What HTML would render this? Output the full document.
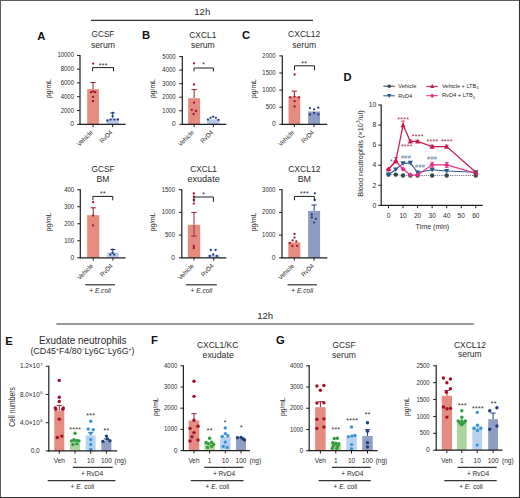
<!DOCTYPE html><html><head><meta charset="utf-8"><style>html,body{margin:0;padding:0;background:#fff;}svg{display:block;}</style></head><body>
<svg width="520" height="498" viewBox="0 0 520 498" font-family='"Liberation Sans", sans-serif'>
<rect x="0" y="0" width="520" height="498" fill="#fff"/>
<rect x="0" y="0" width="520" height="1" fill="#5c5c5c"/>
<rect x="0" y="0" width="1" height="498" fill="#5c5c5c"/>
<rect x="519" y="0" width="1" height="498" fill="#303030"/>
<rect x="0" y="497" width="520" height="1" fill="#303030"/>
<text x="202.3" y="14.9" font-size="9.6" fill="#2a2a2a" text-anchor="middle">12h</text>
<line x1="91" y1="20.4" x2="313" y2="20.4" stroke="#333" stroke-width="1.2"/>
<text x="37.2" y="39.6" font-size="11.2" fill="#111" font-weight="bold">A</text>
<text x="141.9" y="39.4" font-size="11.2" fill="#111" font-weight="bold">B</text>
<text x="241.9" y="39.4" font-size="11.2" fill="#111" font-weight="bold">C</text>
<text x="343.5" y="80.6" font-size="11.2" fill="#111" font-weight="bold">D</text>
<text x="5.2" y="344.8" font-size="11.2" fill="#111" font-weight="bold">E</text>
<text x="151" y="343.8" font-size="11.2" fill="#111" font-weight="bold">F</text>
<text x="276" y="343.9" font-size="11.2" fill="#111" font-weight="bold">G</text>
<line x1="93.05000000000001" y1="82.5" x2="93.05000000000001" y2="89.1" stroke="#9a1e2e" stroke-width="1"/>
<line x1="90.45000000000002" y1="82.5" x2="95.65" y2="82.5" stroke="#9a1e2e" stroke-width="1"/>
<rect x="87.2" y="89.1" width="11.700000000000003" height="35.2" fill="#e68c7e"/>
<circle cx="93.2" cy="63.6" r="1.15" fill="#a30f29"/>
<circle cx="91" cy="92.2" r="1.15" fill="#a30f29"/>
<circle cx="93.2" cy="91.5" r="1.15" fill="#a30f29"/>
<circle cx="95.3" cy="92.2" r="1.15" fill="#a30f29"/>
<circle cx="93" cy="97" r="1.15" fill="#a30f29"/>
<circle cx="93" cy="101.2" r="1.15" fill="#a30f29"/>
<line x1="112.6" y1="113" x2="112.6" y2="118.6" stroke="#5b6f9a" stroke-width="1"/>
<line x1="110.0" y1="113" x2="115.19999999999999" y2="113" stroke="#5b6f9a" stroke-width="1"/>
<rect x="106.3" y="118.6" width="12.600000000000009" height="5.700000000000003" fill="#b7c7ea"/>
<circle cx="112.6" cy="113" r="1.15" fill="#1f3d78"/>
<circle cx="112.6" cy="116.2" r="1.15" fill="#1f3d78"/>
<circle cx="107.4" cy="120.6" r="1.15" fill="#1f3d78"/>
<circle cx="110.6" cy="119.6" r="1.15" fill="#1f3d78"/>
<circle cx="114.4" cy="119.6" r="1.15" fill="#1f3d78"/>
<circle cx="117.9" cy="119.4" r="1.15" fill="#1f3d78"/>
<line x1="80" y1="54.89999999999999" x2="80" y2="124.8" stroke="#1e1e1e" stroke-width="1.2"/>
<line x1="77" y1="124.3" x2="80" y2="124.3" stroke="#1e1e1e" stroke-width="1"/>
<text x="74.0" y="126.37" font-size="6.6" fill="#2a2a2a" text-anchor="end">0</text>
<line x1="77" y1="110.52" x2="80" y2="110.52" stroke="#1e1e1e" stroke-width="1"/>
<text x="74.0" y="112.59" font-size="6.6" fill="#2a2a2a" text-anchor="end" textLength="13.28" lengthAdjust="spacingAndGlyphs">2000</text>
<line x1="77" y1="96.74" x2="80" y2="96.74" stroke="#1e1e1e" stroke-width="1"/>
<text x="74.0" y="98.81" font-size="6.6" fill="#2a2a2a" text-anchor="end" textLength="13.28" lengthAdjust="spacingAndGlyphs">4000</text>
<line x1="77" y1="82.96" x2="80" y2="82.96" stroke="#1e1e1e" stroke-width="1"/>
<text x="74.0" y="85.03" font-size="6.6" fill="#2a2a2a" text-anchor="end" textLength="13.28" lengthAdjust="spacingAndGlyphs">6000</text>
<line x1="77" y1="69.17999999999999" x2="80" y2="69.17999999999999" stroke="#1e1e1e" stroke-width="1"/>
<text x="74.0" y="71.25" font-size="6.6" fill="#2a2a2a" text-anchor="end" textLength="13.28" lengthAdjust="spacingAndGlyphs">8000</text>
<line x1="77" y1="55.39999999999999" x2="80" y2="55.39999999999999" stroke="#1e1e1e" stroke-width="1"/>
<text x="74.0" y="57.47" font-size="6.6" fill="#2a2a2a" text-anchor="end" textLength="16.6" lengthAdjust="spacingAndGlyphs">10000</text>
<line x1="79.4" y1="124.3" x2="125.6" y2="124.3" stroke="#1e1e1e" stroke-width="1.3"/>
<line x1="93.05000000000001" y1="124.3" x2="93.05000000000001" y2="127.1" stroke="#1e1e1e" stroke-width="1"/>
<line x1="112.6" y1="124.3" x2="112.6" y2="127.1" stroke="#1e1e1e" stroke-width="1"/>
<text x="51.4" y="88.6" font-size="7.6" fill="#2a2a2a" text-anchor="middle" textLength="18.6" lengthAdjust="spacingAndGlyphs" transform="rotate(-90 51.4 88.6)">pg/mL</text>
<text x="103" y="36.8" font-size="9.0" fill="#2a2a2a" text-anchor="middle" textLength="22.8" lengthAdjust="spacingAndGlyphs">GCSF</text>
<text x="103" y="47.6" font-size="9.0" fill="#2a2a2a" text-anchor="middle" textLength="24.2" lengthAdjust="spacingAndGlyphs">serum</text>
<polyline points="92.6,71.3 92.6,67.6 113.5,67.6 113.5,71.3" fill="none" stroke="#1e1e1e" stroke-width="1"/>
<text x="103.17" y="67.97" font-size="6.8" fill="#2a2a2a" text-anchor="middle" letter-spacing="0.35">***</text>
<text x="93.35" y="132.9" font-size="6.4" fill="#2a2a2a" text-anchor="end" textLength="19.6" lengthAdjust="spacingAndGlyphs" transform="rotate(-45 93.35 132.9)">Vehicle</text>
<text x="112.9" y="132.9" font-size="6.4" fill="#2a2a2a" text-anchor="end" textLength="15.0" lengthAdjust="spacingAndGlyphs" transform="rotate(-45 112.9 132.9)">RvD4</text>
<line x1="194.14999999999998" y1="89.6" x2="194.14999999999998" y2="98.2" stroke="#9a1e2e" stroke-width="1"/>
<line x1="191.54999999999998" y1="89.6" x2="196.74999999999997" y2="89.6" stroke="#9a1e2e" stroke-width="1"/>
<rect x="188.2" y="98.2" width="11.900000000000006" height="26.099999999999994" fill="#e68c7e"/>
<circle cx="194" cy="63.4" r="1.15" fill="#a30f29"/>
<circle cx="194" cy="84.5" r="1.15" fill="#a30f29"/>
<circle cx="194" cy="102.6" r="1.15" fill="#a30f29"/>
<circle cx="191.8" cy="109.8" r="1.15" fill="#a30f29"/>
<circle cx="196" cy="111" r="1.15" fill="#a30f29"/>
<circle cx="193.6" cy="114" r="1.15" fill="#a30f29"/>
<rect x="207.1" y="119.4" width="12.5" height="4.8999999999999915" fill="#b7c7ea"/>
<circle cx="207.9" cy="119.6" r="1.15" fill="#1f3d78"/>
<circle cx="210.5" cy="117.8" r="1.15" fill="#1f3d78"/>
<circle cx="213.2" cy="116.7" r="1.15" fill="#1f3d78"/>
<circle cx="215.9" cy="117.8" r="1.15" fill="#1f3d78"/>
<circle cx="218.4" cy="119.8" r="1.15" fill="#1f3d78"/>
<line x1="182.3" y1="56.10000000000001" x2="182.3" y2="124.8" stroke="#1e1e1e" stroke-width="1.2"/>
<line x1="179.3" y1="124.3" x2="182.3" y2="124.3" stroke="#1e1e1e" stroke-width="1"/>
<text x="175.6" y="126.37" font-size="6.6" fill="#2a2a2a" text-anchor="end">0</text>
<line x1="179.3" y1="110.76" x2="182.3" y2="110.76" stroke="#1e1e1e" stroke-width="1"/>
<text x="175.6" y="112.83" font-size="6.6" fill="#2a2a2a" text-anchor="end" textLength="13.28" lengthAdjust="spacingAndGlyphs">1000</text>
<line x1="179.3" y1="97.22" x2="182.3" y2="97.22" stroke="#1e1e1e" stroke-width="1"/>
<text x="175.6" y="99.29" font-size="6.6" fill="#2a2a2a" text-anchor="end" textLength="13.28" lengthAdjust="spacingAndGlyphs">2000</text>
<line x1="179.3" y1="83.68" x2="182.3" y2="83.68" stroke="#1e1e1e" stroke-width="1"/>
<text x="175.6" y="85.75" font-size="6.6" fill="#2a2a2a" text-anchor="end" textLength="13.28" lengthAdjust="spacingAndGlyphs">3000</text>
<line x1="179.3" y1="70.14000000000001" x2="182.3" y2="70.14000000000001" stroke="#1e1e1e" stroke-width="1"/>
<text x="175.6" y="72.21" font-size="6.6" fill="#2a2a2a" text-anchor="end" textLength="13.28" lengthAdjust="spacingAndGlyphs">4000</text>
<line x1="179.3" y1="56.60000000000001" x2="182.3" y2="56.60000000000001" stroke="#1e1e1e" stroke-width="1"/>
<text x="175.6" y="58.67" font-size="6.6" fill="#2a2a2a" text-anchor="end" textLength="13.28" lengthAdjust="spacingAndGlyphs">5000</text>
<line x1="181.70000000000002" y1="124.3" x2="226.3" y2="124.3" stroke="#1e1e1e" stroke-width="1.3"/>
<line x1="194.14999999999998" y1="124.3" x2="194.14999999999998" y2="127.1" stroke="#1e1e1e" stroke-width="1"/>
<line x1="213.35" y1="124.3" x2="213.35" y2="127.1" stroke="#1e1e1e" stroke-width="1"/>
<text x="155.0" y="88.6" font-size="7.6" fill="#2a2a2a" text-anchor="middle" textLength="18.6" lengthAdjust="spacingAndGlyphs" transform="rotate(-90 155.0 88.6)">pg/mL</text>
<text x="202.8" y="37.6" font-size="9.0" fill="#2a2a2a" text-anchor="middle" textLength="27.0" lengthAdjust="spacingAndGlyphs">CXCL1</text>
<text x="202.8" y="48.0" font-size="9.0" fill="#2a2a2a" text-anchor="middle" textLength="23.8" lengthAdjust="spacingAndGlyphs">serum</text>
<polyline points="194,71.4 194,68 213.4,68 213.4,71.4" fill="none" stroke="#1e1e1e" stroke-width="1"/>
<text x="203.67" y="67.27" font-size="6.8" fill="#2a2a2a" text-anchor="middle" letter-spacing="0.35">*</text>
<text x="194.45" y="132.9" font-size="6.4" fill="#2a2a2a" text-anchor="end" textLength="19.6" lengthAdjust="spacingAndGlyphs" transform="rotate(-45 194.45 132.9)">Vehicle</text>
<text x="213.65" y="132.9" font-size="6.4" fill="#2a2a2a" text-anchor="end" textLength="15.0" lengthAdjust="spacingAndGlyphs" transform="rotate(-45 213.65 132.9)">RvD4</text>
<line x1="294.35" y1="91.1" x2="294.35" y2="96.4" stroke="#9a1e2e" stroke-width="1"/>
<line x1="291.75" y1="91.1" x2="296.95000000000005" y2="91.1" stroke="#9a1e2e" stroke-width="1"/>
<rect x="288.5" y="96.4" width="11.699999999999989" height="27.89999999999999" fill="#e68c7e"/>
<circle cx="294.6" cy="74.5" r="1.15" fill="#a30f29"/>
<circle cx="290.3" cy="97.4" r="1.15" fill="#a30f29"/>
<circle cx="294.6" cy="96.6" r="1.15" fill="#a30f29"/>
<circle cx="298.9" cy="97.4" r="1.15" fill="#a30f29"/>
<circle cx="294.6" cy="101.2" r="1.15" fill="#a30f29"/>
<circle cx="294.6" cy="106.5" r="1.15" fill="#a30f29"/>
<rect x="308.1" y="111.5" width="11.899999999999977" height="12.799999999999997" fill="#8f9cc2"/>
<circle cx="309.9" cy="108.1" r="1.15" fill="#1f3d78"/>
<circle cx="314.1" cy="109.3" r="1.15" fill="#1f3d78"/>
<circle cx="318.3" cy="107.7" r="1.15" fill="#1f3d78"/>
<circle cx="309.9" cy="114.5" r="1.15" fill="#1f3d78"/>
<circle cx="314.1" cy="113" r="1.15" fill="#1f3d78"/>
<circle cx="318.3" cy="114.5" r="1.15" fill="#1f3d78"/>
<line x1="282.3" y1="55.39999999999999" x2="282.3" y2="124.8" stroke="#1e1e1e" stroke-width="1.2"/>
<line x1="279.3" y1="124.3" x2="282.3" y2="124.3" stroke="#1e1e1e" stroke-width="1"/>
<text x="275.6" y="126.37" font-size="6.6" fill="#2a2a2a" text-anchor="end">0</text>
<line x1="279.3" y1="107.19999999999999" x2="282.3" y2="107.19999999999999" stroke="#1e1e1e" stroke-width="1"/>
<text x="275.6" y="109.27" font-size="6.6" fill="#2a2a2a" text-anchor="end" textLength="9.96" lengthAdjust="spacingAndGlyphs">500</text>
<line x1="279.3" y1="90.1" x2="282.3" y2="90.1" stroke="#1e1e1e" stroke-width="1"/>
<text x="275.6" y="92.17" font-size="6.6" fill="#2a2a2a" text-anchor="end" textLength="13.28" lengthAdjust="spacingAndGlyphs">1000</text>
<line x1="279.3" y1="73.0" x2="282.3" y2="73.0" stroke="#1e1e1e" stroke-width="1"/>
<text x="275.6" y="75.07" font-size="6.6" fill="#2a2a2a" text-anchor="end" textLength="13.28" lengthAdjust="spacingAndGlyphs">1500</text>
<line x1="279.3" y1="55.89999999999999" x2="282.3" y2="55.89999999999999" stroke="#1e1e1e" stroke-width="1"/>
<text x="275.6" y="57.97" font-size="6.6" fill="#2a2a2a" text-anchor="end" textLength="13.28" lengthAdjust="spacingAndGlyphs">2000</text>
<line x1="281.7" y1="124.3" x2="327.3" y2="124.3" stroke="#1e1e1e" stroke-width="1.3"/>
<line x1="294.35" y1="124.3" x2="294.35" y2="127.1" stroke="#1e1e1e" stroke-width="1"/>
<line x1="314.05" y1="124.3" x2="314.05" y2="127.1" stroke="#1e1e1e" stroke-width="1"/>
<text x="256.0" y="88.6" font-size="7.6" fill="#2a2a2a" text-anchor="middle" textLength="18.6" lengthAdjust="spacingAndGlyphs" transform="rotate(-90 256.0 88.6)">pg/mL</text>
<text x="304.2" y="37.4" font-size="9.0" fill="#2a2a2a" text-anchor="middle" textLength="32.2" lengthAdjust="spacingAndGlyphs">CXCL12</text>
<text x="304.2" y="47.9" font-size="9.0" fill="#2a2a2a" text-anchor="middle" textLength="23.8" lengthAdjust="spacingAndGlyphs">serum</text>
<polyline points="294.5,70.3 294.5,65.8 314.5,65.8 314.5,70.3" fill="none" stroke="#1e1e1e" stroke-width="1"/>
<text x="304.37" y="65.97" font-size="6.8" fill="#2a2a2a" text-anchor="middle" letter-spacing="0.35">**</text>
<text x="294.65" y="132.9" font-size="6.4" fill="#2a2a2a" text-anchor="end" textLength="19.6" lengthAdjust="spacingAndGlyphs" transform="rotate(-45 294.65 132.9)">Vehicle</text>
<text x="314.35" y="132.9" font-size="6.4" fill="#2a2a2a" text-anchor="end" textLength="15.0" lengthAdjust="spacingAndGlyphs" transform="rotate(-45 314.35 132.9)">RvD4</text>
<line x1="93.25" y1="207.8" x2="93.25" y2="215.2" stroke="#9a1e2e" stroke-width="1"/>
<line x1="90.65" y1="207.8" x2="95.85" y2="207.8" stroke="#9a1e2e" stroke-width="1"/>
<rect x="87.2" y="215.2" width="12.099999999999994" height="42.60000000000002" fill="#e68c7e"/>
<circle cx="93.1" cy="202.2" r="1.15" fill="#a30f29"/>
<circle cx="93.1" cy="215.6" r="1.15" fill="#a30f29"/>
<circle cx="93.1" cy="225.3" r="1.15" fill="#a30f29"/>
<line x1="112.9" y1="249.5" x2="112.9" y2="252.6" stroke="#1f3d78" stroke-width="1"/>
<line x1="110.30000000000001" y1="249.5" x2="115.5" y2="249.5" stroke="#1f3d78" stroke-width="1"/>
<rect x="107.2" y="252.6" width="11.399999999999991" height="5.200000000000017" fill="#b7c7ea"/>
<circle cx="112.4" cy="249.6" r="1.15" fill="#1f3d78"/>
<circle cx="110.3" cy="254.6" r="1.15" fill="#1f3d78"/>
<circle cx="114.2" cy="254.6" r="1.15" fill="#1f3d78"/>
<circle cx="112.4" cy="252.8" r="1.15" fill="#1f3d78"/>
<line x1="80.3" y1="189.2" x2="80.3" y2="258.3" stroke="#1e1e1e" stroke-width="1.2"/>
<line x1="77.3" y1="257.8" x2="80.3" y2="257.8" stroke="#1e1e1e" stroke-width="1"/>
<text x="74.2" y="259.87" font-size="6.6" fill="#2a2a2a" text-anchor="end">0</text>
<line x1="77.3" y1="240.775" x2="80.3" y2="240.775" stroke="#1e1e1e" stroke-width="1"/>
<text x="74.2" y="242.85" font-size="6.6" fill="#2a2a2a" text-anchor="end" textLength="9.96" lengthAdjust="spacingAndGlyphs">100</text>
<line x1="77.3" y1="223.75" x2="80.3" y2="223.75" stroke="#1e1e1e" stroke-width="1"/>
<text x="74.2" y="225.82" font-size="6.6" fill="#2a2a2a" text-anchor="end" textLength="9.96" lengthAdjust="spacingAndGlyphs">200</text>
<line x1="77.3" y1="206.725" x2="80.3" y2="206.725" stroke="#1e1e1e" stroke-width="1"/>
<text x="74.2" y="208.8" font-size="6.6" fill="#2a2a2a" text-anchor="end" textLength="9.96" lengthAdjust="spacingAndGlyphs">300</text>
<line x1="77.3" y1="189.7" x2="80.3" y2="189.7" stroke="#1e1e1e" stroke-width="1"/>
<text x="74.2" y="191.77" font-size="6.6" fill="#2a2a2a" text-anchor="end" textLength="9.96" lengthAdjust="spacingAndGlyphs">400</text>
<line x1="79.7" y1="257.8" x2="125.6" y2="257.8" stroke="#1e1e1e" stroke-width="1.3"/>
<line x1="93.25" y1="257.8" x2="93.25" y2="260.6" stroke="#1e1e1e" stroke-width="1"/>
<line x1="112.9" y1="257.8" x2="112.9" y2="260.6" stroke="#1e1e1e" stroke-width="1"/>
<text x="51.4" y="221.9" font-size="7.6" fill="#2a2a2a" text-anchor="middle" textLength="18.6" lengthAdjust="spacingAndGlyphs" transform="rotate(-90 51.4 221.9)">pg/mL</text>
<text x="103" y="171.5" font-size="9.0" fill="#2a2a2a" text-anchor="middle" textLength="23.2" lengthAdjust="spacingAndGlyphs">GCSF</text>
<text x="103" y="182.2" font-size="9.0" fill="#2a2a2a" text-anchor="middle" textLength="12.8" lengthAdjust="spacingAndGlyphs">BM</text>
<polyline points="92.9,200.3 92.9,196.4 112.8,196.4 112.8,200.3" fill="none" stroke="#1e1e1e" stroke-width="1"/>
<text x="103.07" y="196.47" font-size="6.8" fill="#2a2a2a" text-anchor="middle" letter-spacing="0.35">**</text>
<text x="93.55" y="266.4" font-size="6.4" fill="#2a2a2a" text-anchor="end" textLength="19.6" lengthAdjust="spacingAndGlyphs" transform="rotate(-45 93.55 266.4)">Vehicle</text>
<text x="113.2" y="266.4" font-size="6.4" fill="#2a2a2a" text-anchor="end" textLength="15.0" lengthAdjust="spacingAndGlyphs" transform="rotate(-45 113.2 266.4)">RvD4</text>
<line x1="194.0" y1="212.4" x2="194.0" y2="224.8" stroke="#9a1e2e" stroke-width="1"/>
<line x1="191.4" y1="212.4" x2="196.6" y2="212.4" stroke="#9a1e2e" stroke-width="1"/>
<rect x="187.8" y="224.8" width="12.399999999999977" height="33.0" fill="#e68c7e"/>
<circle cx="193.8" cy="193.5" r="1.15" fill="#a30f29"/>
<circle cx="193.8" cy="196.6" r="1.15" fill="#a30f29"/>
<circle cx="193.8" cy="200" r="1.15" fill="#a30f29"/>
<circle cx="193.8" cy="203.6" r="1.15" fill="#a30f29"/>
<circle cx="193.8" cy="245.9" r="1.15" fill="#a30f29"/>
<circle cx="193.8" cy="248.2" r="1.15" fill="#a30f29"/>
<rect x="207.6" y="255.2" width="12.200000000000017" height="2.6000000000000227" fill="#b7c7ea"/>
<circle cx="210.8" cy="250" r="1.15" fill="#1f3d78"/>
<circle cx="215.6" cy="250" r="1.15" fill="#1f3d78"/>
<circle cx="213.2" cy="254.5" r="1.15" fill="#1f3d78"/>
<circle cx="209.8" cy="256" r="1.15" fill="#1f3d78"/>
<circle cx="216.8" cy="256" r="1.15" fill="#1f3d78"/>
<line x1="181.8" y1="189.2" x2="181.8" y2="258.3" stroke="#1e1e1e" stroke-width="1.2"/>
<line x1="178.8" y1="257.8" x2="181.8" y2="257.8" stroke="#1e1e1e" stroke-width="1"/>
<text x="175.0" y="259.87" font-size="6.6" fill="#2a2a2a" text-anchor="end">0</text>
<line x1="178.8" y1="235.1" x2="181.8" y2="235.1" stroke="#1e1e1e" stroke-width="1"/>
<text x="175.0" y="237.17" font-size="6.6" fill="#2a2a2a" text-anchor="end" textLength="9.96" lengthAdjust="spacingAndGlyphs">500</text>
<line x1="178.8" y1="212.39999999999998" x2="181.8" y2="212.39999999999998" stroke="#1e1e1e" stroke-width="1"/>
<text x="175.0" y="214.47" font-size="6.6" fill="#2a2a2a" text-anchor="end" textLength="13.28" lengthAdjust="spacingAndGlyphs">1000</text>
<line x1="178.8" y1="189.7" x2="181.8" y2="189.7" stroke="#1e1e1e" stroke-width="1"/>
<text x="175.0" y="191.77" font-size="6.6" fill="#2a2a2a" text-anchor="end" textLength="13.28" lengthAdjust="spacingAndGlyphs">1500</text>
<line x1="181.20000000000002" y1="257.8" x2="226.3" y2="257.8" stroke="#1e1e1e" stroke-width="1.3"/>
<line x1="194.0" y1="257.8" x2="194.0" y2="260.6" stroke="#1e1e1e" stroke-width="1"/>
<line x1="213.7" y1="257.8" x2="213.7" y2="260.6" stroke="#1e1e1e" stroke-width="1"/>
<text x="155.0" y="221.9" font-size="7.6" fill="#2a2a2a" text-anchor="middle" textLength="18.6" lengthAdjust="spacingAndGlyphs" transform="rotate(-90 155.0 221.9)">pg/mL</text>
<text x="203.6" y="171.5" font-size="9.0" fill="#2a2a2a" text-anchor="middle" textLength="26.5" lengthAdjust="spacingAndGlyphs">CXCL1</text>
<text x="203.6" y="182.2" font-size="9.0" fill="#2a2a2a" text-anchor="middle" textLength="32.3" lengthAdjust="spacingAndGlyphs">exudate</text>
<polyline points="194,201.9 194,197 213.4,197 213.4,201.9" fill="none" stroke="#1e1e1e" stroke-width="1"/>
<text x="203.77" y="197.47" font-size="6.8" fill="#2a2a2a" text-anchor="middle" letter-spacing="0.35">*</text>
<text x="194.3" y="266.4" font-size="6.4" fill="#2a2a2a" text-anchor="end" textLength="19.6" lengthAdjust="spacingAndGlyphs" transform="rotate(-45 194.3 266.4)">Vehicle</text>
<text x="214.0" y="266.4" font-size="6.4" fill="#2a2a2a" text-anchor="end" textLength="15.0" lengthAdjust="spacingAndGlyphs" transform="rotate(-45 214.0 266.4)">RvD4</text>
<rect x="288.3" y="242.4" width="12.0" height="15.400000000000006" fill="#e68c7e"/>
<circle cx="294.5" cy="233.9" r="1.15" fill="#a30f29"/>
<circle cx="294.5" cy="237.6" r="1.15" fill="#a30f29"/>
<circle cx="292.6" cy="240.4" r="1.15" fill="#a30f29"/>
<circle cx="296.3" cy="241.4" r="1.15" fill="#a30f29"/>
<circle cx="289.8" cy="243" r="1.15" fill="#a30f29"/>
<circle cx="292.3" cy="245.9" r="1.15" fill="#a30f29"/>
<circle cx="297.2" cy="245.9" r="1.15" fill="#a30f29"/>
<line x1="314.1" y1="205" x2="314.1" y2="210.9" stroke="#1f3d78" stroke-width="1"/>
<line x1="311.5" y1="205" x2="316.70000000000005" y2="205" stroke="#1f3d78" stroke-width="1"/>
<rect x="308.1" y="210.9" width="12.0" height="46.900000000000006" fill="#8f9cc2"/>
<circle cx="314.8" cy="193.3" r="1.15" fill="#1f3d78"/>
<circle cx="314.8" cy="200" r="1.15" fill="#1f3d78"/>
<circle cx="311.8" cy="214.5" r="1.15" fill="#1f3d78"/>
<circle cx="315.9" cy="218.8" r="1.15" fill="#1f3d78"/>
<circle cx="311.8" cy="217.5" r="1.15" fill="#1f3d78"/>
<circle cx="314.1" cy="222.6" r="1.15" fill="#1f3d78"/>
<line x1="282" y1="189.2" x2="282" y2="258.3" stroke="#1e1e1e" stroke-width="1.2"/>
<line x1="279" y1="257.8" x2="282" y2="257.8" stroke="#1e1e1e" stroke-width="1"/>
<text x="275.4" y="259.87" font-size="6.6" fill="#2a2a2a" text-anchor="end">0</text>
<line x1="279" y1="235.1" x2="282" y2="235.1" stroke="#1e1e1e" stroke-width="1"/>
<text x="275.4" y="237.17" font-size="6.6" fill="#2a2a2a" text-anchor="end" textLength="13.28" lengthAdjust="spacingAndGlyphs">1000</text>
<line x1="279" y1="212.39999999999998" x2="282" y2="212.39999999999998" stroke="#1e1e1e" stroke-width="1"/>
<text x="275.4" y="214.47" font-size="6.6" fill="#2a2a2a" text-anchor="end" textLength="13.28" lengthAdjust="spacingAndGlyphs">2000</text>
<line x1="279" y1="189.7" x2="282" y2="189.7" stroke="#1e1e1e" stroke-width="1"/>
<text x="275.4" y="191.77" font-size="6.6" fill="#2a2a2a" text-anchor="end" textLength="13.28" lengthAdjust="spacingAndGlyphs">3000</text>
<line x1="281.4" y1="257.8" x2="327.3" y2="257.8" stroke="#1e1e1e" stroke-width="1.3"/>
<line x1="294.3" y1="257.8" x2="294.3" y2="260.6" stroke="#1e1e1e" stroke-width="1"/>
<line x1="314.1" y1="257.8" x2="314.1" y2="260.6" stroke="#1e1e1e" stroke-width="1"/>
<text x="256.0" y="221.9" font-size="7.6" fill="#2a2a2a" text-anchor="middle" textLength="18.6" lengthAdjust="spacingAndGlyphs" transform="rotate(-90 256.0 221.9)">pg/mL</text>
<text x="304.3" y="171.5" font-size="9.0" fill="#2a2a2a" text-anchor="middle" textLength="32.2" lengthAdjust="spacingAndGlyphs">CXCL12</text>
<text x="304.3" y="182.2" font-size="9.0" fill="#2a2a2a" text-anchor="middle" textLength="13.3" lengthAdjust="spacingAndGlyphs">BM</text>
<polyline points="294.5,200.3 294.5,196.4 314.3,196.4 314.3,200.3" fill="none" stroke="#1e1e1e" stroke-width="1"/>
<text x="304.57" y="195.87" font-size="6.8" fill="#2a2a2a" text-anchor="middle" letter-spacing="0.35">***</text>
<text x="294.6" y="266.4" font-size="6.4" fill="#2a2a2a" text-anchor="end" textLength="19.6" lengthAdjust="spacingAndGlyphs" transform="rotate(-45 294.6 266.4)">Vehicle</text>
<text x="314.4" y="266.4" font-size="6.4" fill="#2a2a2a" text-anchor="end" textLength="15.0" lengthAdjust="spacingAndGlyphs" transform="rotate(-45 314.4 266.4)">RvD4</text>
<line x1="194" y1="224.8" x2="194" y2="236.1" stroke="#9a1e2e" stroke-width="0.9"/>
<line x1="191.2" y1="236.1" x2="196.8" y2="236.1" stroke="#9a1e2e" stroke-width="0.9"/>
<line x1="85.2" y1="284.8" x2="115" y2="284.8" stroke="#333" stroke-width="1.2"/>
<text x="100.1" y="293.3" font-size="6.6" fill="#2a2a2a" text-anchor="middle">+ <tspan font-style="italic">E.coli</tspan></text>
<line x1="186" y1="284.8" x2="216.8" y2="284.8" stroke="#333" stroke-width="1.2"/>
<text x="201.4" y="293.3" font-size="6.6" fill="#2a2a2a" text-anchor="middle">+ <tspan font-style="italic">E.coli</tspan></text>
<line x1="287.5" y1="284.8" x2="317" y2="284.8" stroke="#333" stroke-width="1.2"/>
<text x="302.2" y="293.3" font-size="6.6" fill="#2a2a2a" text-anchor="middle">+ <tspan font-style="italic">E.coli</tspan></text>
<line x1="381.2" y1="104.5" x2="381.2" y2="205.9" stroke="#1e1e1e" stroke-width="1.2"/>
<line x1="378.2" y1="205.4" x2="381.2" y2="205.4" stroke="#1e1e1e" stroke-width="1"/>
<text x="376.2" y="207.6" font-size="6.8" fill="#2a2a2a" text-anchor="end">0</text>
<line x1="378.2" y1="185.32" x2="381.2" y2="185.32" stroke="#1e1e1e" stroke-width="1"/>
<text x="376.2" y="187.52" font-size="6.8" fill="#2a2a2a" text-anchor="end">2</text>
<line x1="378.2" y1="165.24" x2="381.2" y2="165.24" stroke="#1e1e1e" stroke-width="1"/>
<text x="376.2" y="167.44" font-size="6.8" fill="#2a2a2a" text-anchor="end">4</text>
<line x1="378.2" y1="145.16000000000003" x2="381.2" y2="145.16000000000003" stroke="#1e1e1e" stroke-width="1"/>
<text x="376.2" y="147.36" font-size="6.8" fill="#2a2a2a" text-anchor="end">6</text>
<line x1="378.2" y1="125.08000000000001" x2="381.2" y2="125.08000000000001" stroke="#1e1e1e" stroke-width="1"/>
<text x="376.2" y="127.28" font-size="6.8" fill="#2a2a2a" text-anchor="end">8</text>
<line x1="378.2" y1="105.00000000000001" x2="381.2" y2="105.00000000000001" stroke="#1e1e1e" stroke-width="1"/>
<text x="376.2" y="107.2" font-size="6.8" fill="#2a2a2a" text-anchor="end">10</text>
<line x1="380.6" y1="205.4" x2="482.7" y2="205.4" stroke="#1e1e1e" stroke-width="1.3"/>
<line x1="388.5" y1="205.4" x2="388.5" y2="208.20000000000002" stroke="#1e1e1e" stroke-width="1"/>
<text x="388.5" y="217.5" font-size="6.6" fill="#2a2a2a" text-anchor="middle">0</text>
<line x1="403.05" y1="205.4" x2="403.05" y2="208.20000000000002" stroke="#1e1e1e" stroke-width="1"/>
<text x="403.05" y="217.5" font-size="6.6" fill="#2a2a2a" text-anchor="middle">10</text>
<line x1="417.6" y1="205.4" x2="417.6" y2="208.20000000000002" stroke="#1e1e1e" stroke-width="1"/>
<text x="417.6" y="217.5" font-size="6.6" fill="#2a2a2a" text-anchor="middle">20</text>
<line x1="432.15" y1="205.4" x2="432.15" y2="208.20000000000002" stroke="#1e1e1e" stroke-width="1"/>
<text x="432.15" y="217.5" font-size="6.6" fill="#2a2a2a" text-anchor="middle">30</text>
<line x1="446.7" y1="205.4" x2="446.7" y2="208.20000000000002" stroke="#1e1e1e" stroke-width="1"/>
<text x="446.7" y="217.5" font-size="6.6" fill="#2a2a2a" text-anchor="middle">40</text>
<line x1="461.25" y1="205.4" x2="461.25" y2="208.20000000000002" stroke="#1e1e1e" stroke-width="1"/>
<text x="461.25" y="217.5" font-size="6.6" fill="#2a2a2a" text-anchor="middle">50</text>
<line x1="475.8" y1="205.4" x2="475.8" y2="208.20000000000002" stroke="#1e1e1e" stroke-width="1"/>
<text x="475.8" y="217.5" font-size="6.6" fill="#2a2a2a" text-anchor="middle">60</text>
<text x="432.4" y="228.9" font-size="8.0" fill="#2a2a2a" text-anchor="middle" textLength="33.6" lengthAdjust="spacingAndGlyphs">Time (min)</text>
<text x="362.8" y="153.5" font-size="7.8" fill="#2a2a2a" text-anchor="middle" transform="rotate(-90 362.8 153.5)" textLength="86.5" lengthAdjust="spacingAndGlyphs">Blood neutrophils (×10<tspan font-size="5" dy="-2.8">3</tspan><tspan dy="2.8">/ul)</tspan></text>
<polyline points="388.50,174.58 395.77,174.58 403.05,175.48 410.32,175.48 417.60,175.48 432.15,175.48 446.70,175.48 475.80,175.48" fill="none" stroke="#737c82" stroke-width="1.0" stroke-dasharray="1.2,1.0"/>
<polyline points="388.50,174.58 395.77,169.46 403.05,163.43 410.32,162.83 417.60,172.47 432.15,169.76 446.70,170.96 475.80,172.27" fill="none" stroke="#285a86" stroke-width="1.1"/>
<polyline points="388.50,169.26 395.77,161.22 403.05,169.06 410.32,174.98 417.60,174.98 432.15,164.74 446.70,164.94 475.80,173.27" fill="none" stroke="#e42a86" stroke-width="1.2"/>
<polyline points="388.50,169.26 395.77,161.22 403.05,125.08 410.32,141.34 417.60,141.34 432.15,146.67 446.70,146.67 475.80,172.27" fill="none" stroke="#c21c48" stroke-width="1.2"/>
<line x1="395.775" y1="157.71" x2="395.775" y2="161.224" stroke="#c21c48" stroke-width="0.8"/>
<line x1="393.775" y1="157.71" x2="397.775" y2="157.71" stroke="#c21c48" stroke-width="0.8"/>
<line x1="403.05" y1="121.06400000000001" x2="403.05" y2="125.08000000000001" stroke="#c21c48" stroke-width="0.8"/>
<line x1="401.05" y1="121.06400000000001" x2="405.05" y2="121.06400000000001" stroke="#c21c48" stroke-width="0.8"/>
<line x1="410.325" y1="140.14000000000001" x2="410.325" y2="141.34480000000002" stroke="#c21c48" stroke-width="0.8"/>
<line x1="408.325" y1="140.14000000000001" x2="412.325" y2="140.14000000000001" stroke="#c21c48" stroke-width="0.8"/>
<line x1="417.6" y1="140.3408" x2="417.6" y2="141.34480000000002" stroke="#c21c48" stroke-width="0.8"/>
<line x1="415.6" y1="140.3408" x2="419.6" y2="140.3408" stroke="#c21c48" stroke-width="0.8"/>
<line x1="432.15" y1="145.16000000000003" x2="432.15" y2="146.666" stroke="#c21c48" stroke-width="0.8"/>
<line x1="430.15" y1="145.16000000000003" x2="434.15" y2="145.16000000000003" stroke="#c21c48" stroke-width="0.8"/>
<line x1="446.7" y1="145.16000000000003" x2="446.7" y2="146.666" stroke="#c21c48" stroke-width="0.8"/>
<line x1="444.7" y1="145.16000000000003" x2="448.7" y2="145.16000000000003" stroke="#c21c48" stroke-width="0.8"/>
<line x1="475.8" y1="171.264" x2="475.8" y2="172.268" stroke="#c21c48" stroke-width="0.8"/>
<line x1="473.8" y1="171.264" x2="477.8" y2="171.264" stroke="#c21c48" stroke-width="0.8"/>
<line x1="432.15" y1="162.228" x2="432.15" y2="167.24800000000002" stroke="#e42a86" stroke-width="0.8"/>
<line x1="430.15" y1="162.228" x2="434.15" y2="162.228" stroke="#e42a86" stroke-width="0.8"/>
<line x1="430.15" y1="167.24800000000002" x2="434.15" y2="167.24800000000002" stroke="#e42a86" stroke-width="0.8"/>
<line x1="446.7" y1="162.42880000000002" x2="446.7" y2="167.4488" stroke="#e42a86" stroke-width="0.8"/>
<line x1="444.7" y1="162.42880000000002" x2="448.7" y2="162.42880000000002" stroke="#e42a86" stroke-width="0.8"/>
<line x1="444.7" y1="167.4488" x2="448.7" y2="167.4488" stroke="#e42a86" stroke-width="0.8"/>
<circle cx="388.50" cy="174.58" r="2.2" fill="#37474f"/>
<circle cx="395.77" cy="174.58" r="2.2" fill="#37474f"/>
<circle cx="403.05" cy="175.48" r="2.2" fill="#37474f"/>
<circle cx="410.32" cy="175.48" r="2.2" fill="#37474f"/>
<circle cx="417.60" cy="175.48" r="2.2" fill="#37474f"/>
<circle cx="432.15" cy="175.48" r="2.2" fill="#37474f"/>
<circle cx="446.70" cy="175.48" r="2.2" fill="#37474f"/>
<circle cx="475.80" cy="175.48" r="2.2" fill="#37474f"/>
<polygon points="388.50,177.18 391.10,172.50 385.90,172.50" fill="#285a86"/>
<polygon points="395.77,172.06 398.38,167.38 393.17,167.38" fill="#285a86"/>
<polygon points="403.05,166.03 405.65,161.35 400.45,161.35" fill="#285a86"/>
<polygon points="410.32,165.43 412.93,160.75 407.72,160.75" fill="#285a86"/>
<polygon points="417.60,175.07 420.20,170.39 415.00,170.39" fill="#285a86"/>
<polygon points="432.15,172.36 434.75,167.68 429.55,167.68" fill="#285a86"/>
<polygon points="446.70,173.56 449.30,168.88 444.10,168.88" fill="#285a86"/>
<polygon points="475.80,174.87 478.40,170.19 473.20,170.19" fill="#285a86"/>
<polygon points="388.50,166.66 391.10,169.26 388.50,171.86 385.90,169.26" fill="#e42a86"/>
<polygon points="395.77,158.62 398.38,161.22 395.77,163.82 393.17,161.22" fill="#e42a86"/>
<polygon points="403.05,166.46 405.65,169.06 403.05,171.66 400.45,169.06" fill="#e42a86"/>
<polygon points="410.32,172.38 412.93,174.98 410.32,177.58 407.72,174.98" fill="#e42a86"/>
<polygon points="417.60,172.38 420.20,174.98 417.60,177.58 415.00,174.98" fill="#e42a86"/>
<polygon points="432.15,162.14 434.75,164.74 432.15,167.34 429.55,164.74" fill="#e42a86"/>
<polygon points="446.70,162.34 449.30,164.94 446.70,167.54 444.10,164.94" fill="#e42a86"/>
<polygon points="475.80,170.67 478.40,173.27 475.80,175.87 473.20,173.27" fill="#e42a86"/>
<polygon points="388.50,166.66 391.10,171.34 385.90,171.34" fill="#c21c48"/>
<polygon points="395.77,158.62 398.38,163.30 393.17,163.30" fill="#c21c48"/>
<polygon points="403.05,122.48 405.65,127.16 400.45,127.16" fill="#c21c48"/>
<polygon points="410.32,138.74 412.93,143.42 407.72,143.42" fill="#c21c48"/>
<polygon points="417.60,138.74 420.20,143.42 415.00,143.42" fill="#c21c48"/>
<polygon points="432.15,144.07 434.75,148.75 429.55,148.75" fill="#c21c48"/>
<polygon points="446.70,144.07 449.30,148.75 444.10,148.75" fill="#c21c48"/>
<polygon points="475.80,169.67 478.40,174.35 473.20,174.35" fill="#c21c48"/>
<text x="403.17" y="121.67" font-size="6.8" fill="#9c2848" text-anchor="middle" letter-spacing="0.35">****</text>
<text x="417.77" y="138.77" font-size="6.8" fill="#9c2848" text-anchor="middle" letter-spacing="0.35">****</text>
<text x="406.87" y="149.37" font-size="6.8" fill="#9c2848" text-anchor="middle" letter-spacing="0.35">****</text>
<text x="432.47" y="144.17" font-size="6.8" fill="#9c2848" text-anchor="middle" letter-spacing="0.35">****</text>
<text x="446.87" y="144.27" font-size="6.8" fill="#9c2848" text-anchor="middle" letter-spacing="0.35">****</text>
<text x="406.04999999999995" y="158.92" font-size="5.6" fill="#5f7da0" text-anchor="middle" letter-spacing="0.3">###</text>
<text x="420.15" y="167.92" font-size="5.6" fill="#5f7da0" text-anchor="middle" letter-spacing="0.3">###</text>
<text x="432.15" y="160.22" font-size="5.6" fill="#5f7da0" text-anchor="middle" letter-spacing="0.3">###</text>
<text x="391.57" y="164.27" font-size="6.8" fill="#456a8c" text-anchor="middle" letter-spacing="0.35">*</text>
<line x1="383.3" y1="86.2" x2="394.90000000000003" y2="86.2" stroke="#37474f" stroke-width="1.0"/>
<circle cx="389.20" cy="86.20" r="1.8" fill="#37474f"/>
<text x="398.2" y="87.9" font-size="6.1" fill="#2a2a2a" textLength="18.2" lengthAdjust="spacingAndGlyphs">Vehicle</text>
<line x1="383.3" y1="95.8" x2="394.90000000000003" y2="95.8" stroke="#285a86" stroke-width="1.0"/>
<polygon points="389.20,98.00 391.40,94.04 387.00,94.04" fill="#285a86"/>
<text x="398.2" y="97.5" font-size="6.1" fill="#2a2a2a" textLength="14.0" lengthAdjust="spacingAndGlyphs">RvD4</text>
<line x1="426.3" y1="86.3" x2="437.90000000000003" y2="86.3" stroke="#c21c48" stroke-width="1.0"/>
<polygon points="432.20,84.10 434.40,88.06 430.00,88.06" fill="#c21c48"/>
<text x="441.9" y="88.00" font-size="6.1" fill="#2a2a2a" textLength="34.4" lengthAdjust="spacingAndGlyphs">Vehicle + LTB</text>
<text x="476.50" y="89.20" font-size="3.6" fill="#2a2a2a">4</text>
<line x1="426.3" y1="95.7" x2="437.90000000000003" y2="95.7" stroke="#e42a86" stroke-width="1.0"/>
<polygon points="432.20,93.50 434.40,95.70 432.20,97.90 430.00,95.70" fill="#e42a86"/>
<text x="441.9" y="97.40" font-size="6.1" fill="#2a2a2a" textLength="31.0" lengthAdjust="spacingAndGlyphs">RvD4 + LTB</text>
<text x="473.10" y="98.60" font-size="3.6" fill="#2a2a2a">4</text>
<text x="265.2" y="318.8" font-size="9.6" fill="#2a2a2a" text-anchor="middle">12h</text>
<line x1="56.3" y1="324" x2="473.8" y2="324" stroke="#333" stroke-width="1.2"/>
<text x="82.75" y="343.5" font-size="10.0" fill="#2a2a2a" text-anchor="middle" textLength="87.5" lengthAdjust="spacingAndGlyphs">Exudate neutrophils</text>
<text x="82.4" y="353.9" font-size="9.2" fill="#2a2a2a" text-anchor="middle" textLength="104" lengthAdjust="spacingAndGlyphs">(CD45<tspan font-size="5" dy="-3">+</tspan><tspan dy="3">F4/80</tspan><tspan font-size="5" dy="-3">−</tspan><tspan dy="3">Ly6C</tspan><tspan font-size="5" dy="-3">−</tspan><tspan dy="3">Ly6G</tspan><tspan font-size="5" dy="-3">+</tspan><tspan dy="3">)</tspan></text>
<line x1="59.3" y1="405.4275" x2="59.3" y2="410.715" stroke="#9a1e2e" stroke-width="1"/>
<line x1="56.699999999999996" y1="405.4275" x2="61.9" y2="405.4275" stroke="#9a1e2e" stroke-width="1"/>
<rect x="54.3" y="410.715" width="10" height="40.185" fill="#e68c7e"/>
<circle cx="59.3" cy="380.4" r="1.7" fill="#a30f29"/>
<circle cx="59.3" cy="397.32" r="1.7" fill="#a30f29"/>
<circle cx="59.3" cy="401.55" r="1.7" fill="#a30f29"/>
<circle cx="55.3" cy="407.895" r="1.7" fill="#a30f29"/>
<circle cx="63.3" cy="407.895" r="1.7" fill="#a30f29"/>
<circle cx="59.3" cy="419.175" r="1.7" fill="#a30f29"/>
<circle cx="57.3" cy="437.505" r="1.7" fill="#a30f29"/>
<circle cx="61.8" cy="436.09499999999997" r="1.7" fill="#a30f29"/>
<circle cx="55.8" cy="409.305" r="1.7" fill="#a30f29"/>
<circle cx="62.8" cy="409.305" r="1.7" fill="#a30f29"/>
<line x1="75" y1="441.73499999999996" x2="75" y2="443.4975" stroke="#2f9e3a" stroke-width="1"/>
<line x1="72.4" y1="441.73499999999996" x2="77.6" y2="441.73499999999996" stroke="#2f9e3a" stroke-width="1"/>
<rect x="70.0" y="443.4975" width="10" height="7.402499999999975" fill="#acd49d"/>
<circle cx="75" cy="433.275" r="1.7" fill="#2f9e3a"/>
<circle cx="71.5" cy="441.03" r="1.7" fill="#2f9e3a"/>
<circle cx="74" cy="439.62" r="1.7" fill="#2f9e3a"/>
<circle cx="77" cy="440.325" r="1.7" fill="#2f9e3a"/>
<circle cx="79" cy="441.03" r="1.7" fill="#2f9e3a"/>
<circle cx="73" cy="444.555" r="1.7" fill="#2f9e3a"/>
<circle cx="77" cy="443.84999999999997" r="1.7" fill="#2f9e3a"/>
<line x1="90.7" y1="432.57" x2="90.7" y2="435.39" stroke="#3b94d6" stroke-width="1"/>
<line x1="88.10000000000001" y1="432.57" x2="93.3" y2="432.57" stroke="#3b94d6" stroke-width="1"/>
<rect x="85.7" y="435.39" width="10" height="15.509999999999991" fill="#b7d3ef"/>
<circle cx="90.7" cy="421.28999999999996" r="1.7" fill="#3b94d6"/>
<circle cx="88.2" cy="429.04499999999996" r="1.7" fill="#3b94d6"/>
<circle cx="93.2" cy="429.75" r="1.7" fill="#3b94d6"/>
<circle cx="90.7" cy="433.275" r="1.7" fill="#3b94d6"/>
<circle cx="90.7" cy="439.62" r="1.7" fill="#3b94d6"/>
<circle cx="90.7" cy="444.555" r="1.7" fill="#3b94d6"/>
<circle cx="90.7" cy="449.48999999999995" r="1.7" fill="#3b94d6"/>
<line x1="106.4" y1="438.91499999999996" x2="106.4" y2="440.6775" stroke="#1b3f7c" stroke-width="1"/>
<line x1="103.80000000000001" y1="438.91499999999996" x2="109.0" y2="438.91499999999996" stroke="#1b3f7c" stroke-width="1"/>
<rect x="101.4" y="440.6775" width="10" height="10.222499999999968" fill="#909ec4"/>
<circle cx="106.4" cy="436.09499999999997" r="1.7" fill="#1b3f7c"/>
<circle cx="102.9" cy="441.3825" r="1.7" fill="#1b3f7c"/>
<circle cx="109.9" cy="440.6775" r="1.7" fill="#1b3f7c"/>
<circle cx="107.4" cy="438.91499999999996" r="1.7" fill="#1b3f7c"/>
<line x1="48.8" y1="365.8" x2="48.8" y2="451.4" stroke="#1e1e1e" stroke-width="1.2"/>
<line x1="45.8" y1="450.9" x2="48.8" y2="450.9" stroke="#1e1e1e" stroke-width="1"/>
<text x="39.8" y="452.97" font-size="6.6" fill="#2a2a2a" text-anchor="end">0.0</text>
<line x1="45.8" y1="422.7" x2="48.8" y2="422.7" stroke="#1e1e1e" stroke-width="1"/>
<text x="39.8" y="424.77" font-size="6.6" fill="#2a2a2a" text-anchor="end" textLength="19.9" lengthAdjust="spacingAndGlyphs">4.0×10</text>
<text x="40.3" y="422.17" font-size="4.2" fill="#2a2a2a">6</text>
<line x1="45.8" y1="394.5" x2="48.8" y2="394.5" stroke="#1e1e1e" stroke-width="1"/>
<text x="39.8" y="396.57" font-size="6.6" fill="#2a2a2a" text-anchor="end" textLength="19.9" lengthAdjust="spacingAndGlyphs">8.0×10</text>
<text x="40.3" y="393.97" font-size="4.2" fill="#2a2a2a">6</text>
<line x1="45.8" y1="366.3" x2="48.8" y2="366.3" stroke="#1e1e1e" stroke-width="1"/>
<text x="39.8" y="368.37" font-size="6.6" fill="#2a2a2a" text-anchor="end" textLength="19.9" lengthAdjust="spacingAndGlyphs">1.2×10</text>
<text x="40.3" y="365.77" font-size="4.2" fill="#2a2a2a">7</text>
<line x1="48.199999999999996" y1="450.9" x2="117.2" y2="450.9" stroke="#1e1e1e" stroke-width="1.3"/>
<line x1="59.3" y1="450.9" x2="59.3" y2="453.7" stroke="#1e1e1e" stroke-width="1"/>
<line x1="75" y1="450.9" x2="75" y2="453.7" stroke="#1e1e1e" stroke-width="1"/>
<line x1="90.7" y1="450.9" x2="90.7" y2="453.7" stroke="#1e1e1e" stroke-width="1"/>
<line x1="106.4" y1="450.9" x2="106.4" y2="453.7" stroke="#1e1e1e" stroke-width="1"/>
<text x="14.7" y="407.0" font-size="8.2" fill="#2a2a2a" text-anchor="middle" textLength="39.5" lengthAdjust="spacingAndGlyphs" transform="rotate(-90 14.7 407.0)">Cell numbers</text>
<text x="75.17" y="432.27" font-size="6.8" fill="#2a2a2a" text-anchor="middle" letter-spacing="0.35">****</text>
<text x="90.87" y="418.47" font-size="6.8" fill="#2a2a2a" text-anchor="middle" letter-spacing="0.35">***</text>
<text x="106.57" y="432.97" font-size="6.8" fill="#2a2a2a" text-anchor="middle" letter-spacing="0.35">**</text>
<text x="59.3" y="462.6" font-size="6.5" fill="#2a2a2a" text-anchor="middle">Veh</text>
<text x="75" y="462.6" font-size="6.5" fill="#2a2a2a" text-anchor="middle">1</text>
<text x="90.7" y="462.6" font-size="6.5" fill="#2a2a2a" text-anchor="middle">10</text>
<text x="106.4" y="462.6" font-size="6.5" fill="#2a2a2a" text-anchor="middle">100</text>
<text x="114.6" y="462.6" font-size="6.5" fill="#2a2a2a">(ng)</text>
<line x1="73" y1="467.3" x2="112.7" y2="467.3" stroke="#333" stroke-width="1.2"/>
<text x="92" y="476.0" font-size="6.6" fill="#2a2a2a" text-anchor="middle">+ RvD4</text>
<line x1="47.7" y1="480.6" x2="115.4" y2="480.6" stroke="#333" stroke-width="1.2"/>
<text x="82.3" y="489.2" font-size="6.6" fill="#2a2a2a" text-anchor="middle">+ <tspan font-style="italic">E.</tspan> coli</text>
<text x="217.6" y="347.6" font-size="9.0" fill="#2a2a2a" text-anchor="middle" textLength="41.3" lengthAdjust="spacingAndGlyphs">CXCL1/KC</text>
<text x="218.2" y="357.6" font-size="9.0" fill="#2a2a2a" text-anchor="middle" textLength="31.3" lengthAdjust="spacingAndGlyphs">exudate</text>
<line x1="194" y1="413.712" x2="194" y2="420.49600000000004" stroke="#9a1e2e" stroke-width="1"/>
<line x1="191.4" y1="413.712" x2="196.6" y2="413.712" stroke="#9a1e2e" stroke-width="1"/>
<rect x="188.75" y="420.49600000000004" width="10.5" height="30.103999999999985" fill="#e68c7e"/>
<circle cx="194" cy="381.276" r="1.7" fill="#a30f29"/>
<circle cx="194" cy="396.32800000000003" r="1.7" fill="#a30f29"/>
<circle cx="194" cy="420.284" r="1.7" fill="#a30f29"/>
<circle cx="190" cy="428.34000000000003" r="1.7" fill="#a30f29"/>
<circle cx="198" cy="426.22" r="1.7" fill="#a30f29"/>
<circle cx="194" cy="432.58000000000004" r="1.7" fill="#a30f29"/>
<circle cx="190" cy="441.06" r="1.7" fill="#a30f29"/>
<circle cx="198" cy="440.0" r="1.7" fill="#a30f29"/>
<circle cx="192" cy="436.82" r="1.7" fill="#a30f29"/>
<rect x="204.35" y="442.75600000000003" width="10.5" height="7.843999999999994" fill="#acd49d"/>
<circle cx="209.6" cy="438.30400000000003" r="1.7" fill="#2f9e3a"/>
<circle cx="206.1" cy="442.54400000000004" r="1.7" fill="#2f9e3a"/>
<circle cx="208.6" cy="443.60400000000004" r="1.7" fill="#2f9e3a"/>
<circle cx="211.6" cy="442.12" r="1.7" fill="#2f9e3a"/>
<circle cx="213.6" cy="444.24" r="1.7" fill="#2f9e3a"/>
<circle cx="207.6" cy="447.42" r="1.7" fill="#2f9e3a"/>
<circle cx="211.6" cy="446.36" r="1.7" fill="#2f9e3a"/>
<rect x="220.05" y="436.82" width="10.5" height="13.78000000000003" fill="#b7d3ef"/>
<circle cx="225.3" cy="427.916" r="1.7" fill="#3b94d6"/>
<circle cx="222.3" cy="436.396" r="1.7" fill="#3b94d6"/>
<circle cx="227.8" cy="435.76000000000005" r="1.7" fill="#3b94d6"/>
<circle cx="225.3" cy="433.64000000000004" r="1.7" fill="#3b94d6"/>
<circle cx="225.3" cy="442.12" r="1.7" fill="#3b94d6"/>
<circle cx="223.3" cy="446.36" r="1.7" fill="#3b94d6"/>
<circle cx="227.3" cy="447.42" r="1.7" fill="#3b94d6"/>
<rect x="236.0" y="438.728" width="10" height="11.872000000000014" fill="#909ec4"/>
<circle cx="237.5" cy="437.668" r="1.7" fill="#1b3f7c"/>
<circle cx="241" cy="437.456" r="1.7" fill="#1b3f7c"/>
<circle cx="244.5" cy="440.0" r="1.7" fill="#1b3f7c"/>
<circle cx="243" cy="438.728" r="1.7" fill="#1b3f7c"/>
<line x1="183.4" y1="365.3" x2="183.4" y2="451.1" stroke="#1e1e1e" stroke-width="1.2"/>
<line x1="180.4" y1="450.6" x2="183.4" y2="450.6" stroke="#1e1e1e" stroke-width="1"/>
<text x="177.3" y="452.67" font-size="6.6" fill="#2a2a2a" text-anchor="end">0</text>
<line x1="180.4" y1="429.40000000000003" x2="183.4" y2="429.40000000000003" stroke="#1e1e1e" stroke-width="1"/>
<text x="177.3" y="431.47" font-size="6.6" fill="#2a2a2a" text-anchor="end" textLength="13.28" lengthAdjust="spacingAndGlyphs">1000</text>
<line x1="180.4" y1="408.20000000000005" x2="183.4" y2="408.20000000000005" stroke="#1e1e1e" stroke-width="1"/>
<text x="177.3" y="410.27" font-size="6.6" fill="#2a2a2a" text-anchor="end" textLength="13.28" lengthAdjust="spacingAndGlyphs">2000</text>
<line x1="180.4" y1="387.0" x2="183.4" y2="387.0" stroke="#1e1e1e" stroke-width="1"/>
<text x="177.3" y="389.07" font-size="6.6" fill="#2a2a2a" text-anchor="end" textLength="13.28" lengthAdjust="spacingAndGlyphs">3000</text>
<line x1="180.4" y1="365.8" x2="183.4" y2="365.8" stroke="#1e1e1e" stroke-width="1"/>
<text x="177.3" y="367.87" font-size="6.6" fill="#2a2a2a" text-anchor="end" textLength="13.28" lengthAdjust="spacingAndGlyphs">4000</text>
<line x1="182.8" y1="450.6" x2="250" y2="450.6" stroke="#1e1e1e" stroke-width="1.3"/>
<line x1="194" y1="450.6" x2="194" y2="453.40000000000003" stroke="#1e1e1e" stroke-width="1"/>
<line x1="209.6" y1="450.6" x2="209.6" y2="453.40000000000003" stroke="#1e1e1e" stroke-width="1"/>
<line x1="225.3" y1="450.6" x2="225.3" y2="453.40000000000003" stroke="#1e1e1e" stroke-width="1"/>
<line x1="241" y1="450.6" x2="241" y2="453.40000000000003" stroke="#1e1e1e" stroke-width="1"/>
<text x="158.5" y="406.7" font-size="7.6" fill="#2a2a2a" text-anchor="middle" textLength="18.6" lengthAdjust="spacingAndGlyphs" transform="rotate(-90 158.5 406.7)">pg/mL</text>
<text x="209.87" y="432.97" font-size="6.8" fill="#2a2a2a" text-anchor="middle" letter-spacing="0.35">**</text>
<text x="225.17" y="424.77" font-size="6.8" fill="#2a2a2a" text-anchor="middle" letter-spacing="0.35">*</text>
<text x="241.47" y="429.77" font-size="6.8" fill="#2a2a2a" text-anchor="middle" letter-spacing="0.35">*</text>
<text x="194" y="462.6" font-size="6.5" fill="#2a2a2a" text-anchor="middle">Veh</text>
<text x="209.6" y="462.6" font-size="6.5" fill="#2a2a2a" text-anchor="middle">1</text>
<text x="225.3" y="462.6" font-size="6.5" fill="#2a2a2a" text-anchor="middle">10</text>
<text x="241" y="462.6" font-size="6.5" fill="#2a2a2a" text-anchor="middle">100</text>
<text x="249.6" y="462.6" font-size="6.5" fill="#2a2a2a">(ng)</text>
<line x1="204.2" y1="467.3" x2="243.5" y2="467.3" stroke="#333" stroke-width="1.2"/>
<text x="224" y="476.0" font-size="6.6" fill="#2a2a2a" text-anchor="middle">+ RvD4</text>
<line x1="190.8" y1="480.6" x2="243.5" y2="480.6" stroke="#333" stroke-width="1.2"/>
<text x="217.4" y="489.2" font-size="6.6" fill="#2a2a2a" text-anchor="middle">+ <tspan font-style="italic">E.</tspan> coli</text>
<text x="344" y="348.0" font-size="9.0" fill="#2a2a2a" text-anchor="middle" textLength="23" lengthAdjust="spacingAndGlyphs">GCSF</text>
<text x="343.9" y="357.6" font-size="9.0" fill="#2a2a2a" text-anchor="middle" textLength="23.8" lengthAdjust="spacingAndGlyphs">serum</text>
<line x1="320.4" y1="401.67025" x2="320.4" y2="407.18875" stroke="#9a1e2e" stroke-width="1"/>
<line x1="317.79999999999995" y1="401.67025" x2="323.0" y2="401.67025" stroke="#9a1e2e" stroke-width="1"/>
<rect x="315.15" y="407.18875" width="10.5" height="43.51124999999996" fill="#e68c7e"/>
<circle cx="316.9" cy="385.96375" r="1.7" fill="#a30f29"/>
<circle cx="323.9" cy="385.53925000000004" r="1.7" fill="#a30f29"/>
<circle cx="320.4" cy="390.20875" r="1.7" fill="#a30f29"/>
<circle cx="316.9" cy="402.94375" r="1.7" fill="#a30f29"/>
<circle cx="323.9" cy="402.7315" r="1.7" fill="#a30f29"/>
<circle cx="316.9" cy="419.287" r="1.7" fill="#a30f29"/>
<circle cx="323.9" cy="418.8625" r="1.7" fill="#a30f29"/>
<circle cx="316.9" cy="428.41375" r="1.7" fill="#a30f29"/>
<circle cx="323.9" cy="426.928" r="1.7" fill="#a30f29"/>
<rect x="330.8" y="444.3325" width="10" height="6.367500000000007" fill="#acd49d"/>
<circle cx="334.3" cy="438.495625" r="1.7" fill="#2f9e3a"/>
<circle cx="337.3" cy="438.17725" r="1.7" fill="#2f9e3a"/>
<circle cx="332.8" cy="442.6345" r="1.7" fill="#2f9e3a"/>
<circle cx="335.8" cy="443.27125" r="1.7" fill="#2f9e3a"/>
<circle cx="338.8" cy="443.69575" r="1.7" fill="#2f9e3a"/>
<circle cx="333.8" cy="445.39375" r="1.7" fill="#2f9e3a"/>
<circle cx="337.8" cy="446.0305" r="1.7" fill="#2f9e3a"/>
<circle cx="332.3" cy="448.15299999999996" r="1.7" fill="#2f9e3a"/>
<circle cx="336.8" cy="448.36525" r="1.7" fill="#2f9e3a"/>
<rect x="346.25" y="437.116" width="10.5" height="13.584000000000003" fill="#b7d3ef"/>
<circle cx="351.5" cy="426.928" r="1.7" fill="#3b94d6"/>
<circle cx="348.5" cy="436.6066" r="1.7" fill="#3b94d6"/>
<circle cx="352.0" cy="436.05475" r="1.7" fill="#3b94d6"/>
<circle cx="355.0" cy="435.5029" r="1.7" fill="#3b94d6"/>
<circle cx="351.5" cy="444.608425" r="1.7" fill="#3b94d6"/>
<circle cx="351.5" cy="449.002" r="1.7" fill="#3b94d6"/>
<line x1="367.5" y1="429.68725" x2="367.5" y2="436.05475" stroke="#1b3f7c" stroke-width="1"/>
<line x1="364.9" y1="429.68725" x2="370.1" y2="429.68725" stroke="#1b3f7c" stroke-width="1"/>
<rect x="362.25" y="436.05475" width="10.5" height="14.645249999999976" fill="#909ec4"/>
<circle cx="367.5" cy="422.683" r="1.7" fill="#1b3f7c"/>
<circle cx="367.5" cy="431.173" r="1.7" fill="#1b3f7c"/>
<circle cx="367.5" cy="442.6345" r="1.7" fill="#1b3f7c"/>
<circle cx="367.5" cy="446.8795" r="1.7" fill="#1b3f7c"/>
<line x1="309.2" y1="365.3" x2="309.2" y2="451.2" stroke="#1e1e1e" stroke-width="1.2"/>
<line x1="306.2" y1="450.7" x2="309.2" y2="450.7" stroke="#1e1e1e" stroke-width="1"/>
<text x="303.2" y="452.77" font-size="6.6" fill="#2a2a2a" text-anchor="end">0</text>
<line x1="306.2" y1="429.475" x2="309.2" y2="429.475" stroke="#1e1e1e" stroke-width="1"/>
<text x="303.2" y="431.55" font-size="6.6" fill="#2a2a2a" text-anchor="end" textLength="13.28" lengthAdjust="spacingAndGlyphs">1000</text>
<line x1="306.2" y1="408.25" x2="309.2" y2="408.25" stroke="#1e1e1e" stroke-width="1"/>
<text x="303.2" y="410.32" font-size="6.6" fill="#2a2a2a" text-anchor="end" textLength="13.28" lengthAdjust="spacingAndGlyphs">2000</text>
<line x1="306.2" y1="387.025" x2="309.2" y2="387.025" stroke="#1e1e1e" stroke-width="1"/>
<text x="303.2" y="389.1" font-size="6.6" fill="#2a2a2a" text-anchor="end" textLength="13.28" lengthAdjust="spacingAndGlyphs">3000</text>
<line x1="306.2" y1="365.8" x2="309.2" y2="365.8" stroke="#1e1e1e" stroke-width="1"/>
<text x="303.2" y="367.87" font-size="6.6" fill="#2a2a2a" text-anchor="end" textLength="13.28" lengthAdjust="spacingAndGlyphs">4000</text>
<line x1="308.59999999999997" y1="450.7" x2="377.6" y2="450.7" stroke="#1e1e1e" stroke-width="1.3"/>
<line x1="320.4" y1="450.7" x2="320.4" y2="453.5" stroke="#1e1e1e" stroke-width="1"/>
<line x1="335.8" y1="450.7" x2="335.8" y2="453.5" stroke="#1e1e1e" stroke-width="1"/>
<line x1="351.5" y1="450.7" x2="351.5" y2="453.5" stroke="#1e1e1e" stroke-width="1"/>
<line x1="367.5" y1="450.7" x2="367.5" y2="453.5" stroke="#1e1e1e" stroke-width="1"/>
<text x="284.6" y="406.7" font-size="7.6" fill="#2a2a2a" text-anchor="middle" textLength="18.6" lengthAdjust="spacingAndGlyphs" transform="rotate(-90 284.6 406.7)">pg/mL</text>
<text x="335.97" y="431.77" font-size="6.8" fill="#2a2a2a" text-anchor="middle" letter-spacing="0.35">***</text>
<text x="352.17" y="423.47" font-size="6.8" fill="#2a2a2a" text-anchor="middle" letter-spacing="0.35">****</text>
<text x="367.67" y="417.27" font-size="6.8" fill="#2a2a2a" text-anchor="middle" letter-spacing="0.35">**</text>
<text x="320.4" y="462.6" font-size="6.5" fill="#2a2a2a" text-anchor="middle">Veh</text>
<text x="335.8" y="462.6" font-size="6.5" fill="#2a2a2a" text-anchor="middle">1</text>
<text x="351.5" y="462.6" font-size="6.5" fill="#2a2a2a" text-anchor="middle">10</text>
<text x="367.5" y="462.6" font-size="6.5" fill="#2a2a2a" text-anchor="middle">100</text>
<text x="375.7" y="462.6" font-size="6.5" fill="#2a2a2a">(ng)</text>
<line x1="331.9" y1="467.3" x2="370.8" y2="467.3" stroke="#333" stroke-width="1.2"/>
<text x="352.4" y="476.0" font-size="6.6" fill="#2a2a2a" text-anchor="middle">+ RvD4</text>
<line x1="318.6" y1="480.6" x2="370.8" y2="480.6" stroke="#333" stroke-width="1.2"/>
<text x="345.3" y="489.2" font-size="6.6" fill="#2a2a2a" text-anchor="middle">+ <tspan font-style="italic">E.</tspan> coli</text>
<text x="469.9" y="348.0" font-size="9.0" fill="#2a2a2a" text-anchor="middle" textLength="32" lengthAdjust="spacingAndGlyphs">CXCL12</text>
<text x="469.8" y="357.4" font-size="9.0" fill="#2a2a2a" text-anchor="middle" textLength="23.5" lengthAdjust="spacingAndGlyphs">serum</text>
<line x1="446.9" y1="390.4448" x2="446.9" y2="395.8464" stroke="#9a1e2e" stroke-width="1"/>
<line x1="444.29999999999995" y1="390.4448" x2="449.5" y2="390.4448" stroke="#9a1e2e" stroke-width="1"/>
<rect x="441.79999999999995" y="395.8464" width="10.2" height="54.35359999999997" fill="#e68c7e"/>
<circle cx="443.4" cy="377.9536" r="1.7" fill="#a30f29"/>
<circle cx="450.4" cy="378.9664" r="1.7" fill="#a30f29"/>
<circle cx="446.9" cy="382.68" r="1.7" fill="#a30f29"/>
<circle cx="450.4" cy="388.7568" r="1.7" fill="#a30f29"/>
<circle cx="446.4" cy="392.1328" r="1.7" fill="#a30f29"/>
<circle cx="443.4" cy="406.98720000000003" r="1.7" fill="#a30f29"/>
<circle cx="446.9" cy="408.6752" r="1.7" fill="#a30f29"/>
<circle cx="450.4" cy="408.3376" r="1.7" fill="#a30f29"/>
<circle cx="446.9" cy="417.1152" r="1.7" fill="#a30f29"/>
<rect x="456.90000000000003" y="420.8288" width="9.8" height="29.371199999999988" fill="#acd49d"/>
<circle cx="461.8" cy="410.80208" r="1.7" fill="#2f9e3a"/>
<circle cx="461.8" cy="417.284" r="1.7" fill="#2f9e3a"/>
<circle cx="458.2" cy="420.9976" r="1.7" fill="#2f9e3a"/>
<circle cx="465.40000000000003" cy="420.9976" r="1.7" fill="#2f9e3a"/>
<circle cx="461.8" cy="420.9976" r="1.7" fill="#2f9e3a"/>
<circle cx="460.0" cy="422.98944" r="1.7" fill="#2f9e3a"/>
<circle cx="463.6" cy="422.98944" r="1.7" fill="#2f9e3a"/>
<circle cx="461.8" cy="424.50864" r="1.7" fill="#2f9e3a"/>
<rect x="472.3" y="426.568" width="9.8" height="23.632000000000005" fill="#b7d3ef"/>
<circle cx="477.2" cy="412.3888" r="1.7" fill="#3b94d6"/>
<circle cx="477.5" cy="425.28512" r="1.7" fill="#3b94d6"/>
<circle cx="474.0" cy="428.28976" r="1.7" fill="#3b94d6"/>
<circle cx="480.8" cy="428.28976" r="1.7" fill="#3b94d6"/>
<circle cx="477.5" cy="430.48416" r="1.7" fill="#3b94d6"/>
<circle cx="477.2" cy="445.10224" r="1.7" fill="#3b94d6"/>
<line x1="493.1" y1="413.064" x2="493.1" y2="419.1408" stroke="#1b3f7c" stroke-width="1"/>
<line x1="490.5" y1="413.064" x2="495.70000000000005" y2="413.064" stroke="#1b3f7c" stroke-width="1"/>
<rect x="488.20000000000005" y="419.1408" width="9.8" height="31.059199999999976" fill="#909ec4"/>
<circle cx="489.70000000000005" cy="410.80208" r="1.7" fill="#1b3f7c"/>
<circle cx="496.90000000000003" cy="407.79744" r="1.7" fill="#1b3f7c"/>
<circle cx="489.70000000000005" cy="429.30255999999997" r="1.7" fill="#1b3f7c"/>
<circle cx="496.90000000000003" cy="425.99408" r="1.7" fill="#1b3f7c"/>
<line x1="436.2" y1="365.3" x2="436.2" y2="450.7" stroke="#1e1e1e" stroke-width="1.2"/>
<line x1="433.2" y1="450.2" x2="436.2" y2="450.2" stroke="#1e1e1e" stroke-width="1"/>
<text x="429.7" y="452.27" font-size="6.6" fill="#2a2a2a" text-anchor="end">0</text>
<line x1="433.2" y1="433.32" x2="436.2" y2="433.32" stroke="#1e1e1e" stroke-width="1"/>
<text x="429.7" y="435.39" font-size="6.6" fill="#2a2a2a" text-anchor="end" textLength="9.96" lengthAdjust="spacingAndGlyphs">500</text>
<line x1="433.2" y1="416.44" x2="436.2" y2="416.44" stroke="#1e1e1e" stroke-width="1"/>
<text x="429.7" y="418.51" font-size="6.6" fill="#2a2a2a" text-anchor="end" textLength="13.28" lengthAdjust="spacingAndGlyphs">1000</text>
<line x1="433.2" y1="399.56" x2="436.2" y2="399.56" stroke="#1e1e1e" stroke-width="1"/>
<text x="429.7" y="401.63" font-size="6.6" fill="#2a2a2a" text-anchor="end" textLength="13.28" lengthAdjust="spacingAndGlyphs">1500</text>
<line x1="433.2" y1="382.68" x2="436.2" y2="382.68" stroke="#1e1e1e" stroke-width="1"/>
<text x="429.7" y="384.75" font-size="6.6" fill="#2a2a2a" text-anchor="end" textLength="13.28" lengthAdjust="spacingAndGlyphs">2000</text>
<line x1="433.2" y1="365.8" x2="436.2" y2="365.8" stroke="#1e1e1e" stroke-width="1"/>
<text x="429.7" y="367.87" font-size="6.6" fill="#2a2a2a" text-anchor="end" textLength="13.28" lengthAdjust="spacingAndGlyphs">2500</text>
<line x1="435.59999999999997" y1="450.2" x2="502.5" y2="450.2" stroke="#1e1e1e" stroke-width="1.3"/>
<line x1="446.9" y1="450.2" x2="446.9" y2="453.0" stroke="#1e1e1e" stroke-width="1"/>
<line x1="461.8" y1="450.2" x2="461.8" y2="453.0" stroke="#1e1e1e" stroke-width="1"/>
<line x1="477.2" y1="450.2" x2="477.2" y2="453.0" stroke="#1e1e1e" stroke-width="1"/>
<line x1="493.1" y1="450.2" x2="493.1" y2="453.0" stroke="#1e1e1e" stroke-width="1"/>
<text x="409.5" y="406.6" font-size="7.6" fill="#2a2a2a" text-anchor="middle" textLength="18.6" lengthAdjust="spacingAndGlyphs" transform="rotate(-90 409.5 406.6)">pg/mL</text>
<text x="462.47" y="407.77" font-size="6.8" fill="#2a2a2a" text-anchor="middle" letter-spacing="0.35">***</text>
<text x="478.07" y="410.87" font-size="6.8" fill="#2a2a2a" text-anchor="middle" letter-spacing="0.35">****</text>
<text x="493.77" y="406.47" font-size="6.8" fill="#2a2a2a" text-anchor="middle" letter-spacing="0.35">**</text>
<text x="446.9" y="462.6" font-size="6.5" fill="#2a2a2a" text-anchor="middle">Veh</text>
<text x="461.8" y="462.6" font-size="6.5" fill="#2a2a2a" text-anchor="middle">1</text>
<text x="477.2" y="462.6" font-size="6.5" fill="#2a2a2a" text-anchor="middle">10</text>
<text x="493.1" y="462.6" font-size="6.5" fill="#2a2a2a" text-anchor="middle">100</text>
<text x="502" y="462.6" font-size="6.5" fill="#2a2a2a">(ng)</text>
<line x1="457.6" y1="467.3" x2="496.7" y2="467.3" stroke="#333" stroke-width="1.2"/>
<text x="478" y="476.0" font-size="6.6" fill="#2a2a2a" text-anchor="middle">+ RvD4</text>
<line x1="444.3" y1="480.6" x2="496.7" y2="480.6" stroke="#333" stroke-width="1.2"/>
<text x="471" y="489.2" font-size="6.6" fill="#2a2a2a" text-anchor="middle">+ <tspan font-style="italic">E.</tspan> coli</text>
</svg></body></html>
